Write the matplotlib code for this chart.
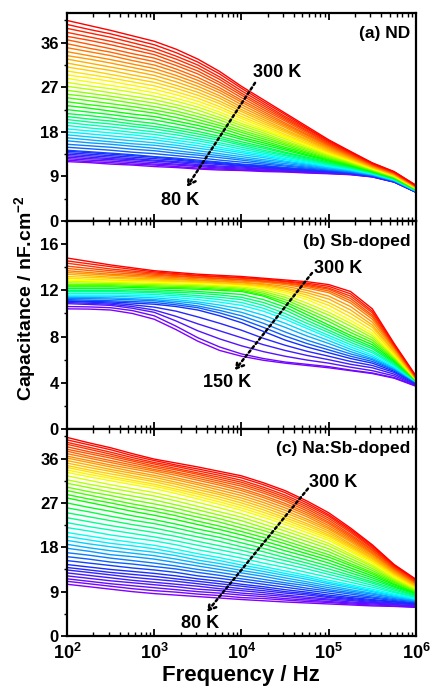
import matplotlib
matplotlib.use("Agg")
import matplotlib.pyplot as plt
from matplotlib.colors import LinearSegmentedColormap
from matplotlib.ticker import MultipleLocator, LogLocator, NullFormatter
import numpy as np

plt.rcParams['font.family'] = ['Liberation Sans', 'DejaVu Sans']
plt.rcParams['font.weight'] = 'bold'
plt.rcParams['mathtext.fontset'] = 'custom'
plt.rcParams['mathtext.rm'] = 'Liberation Sans:bold'
plt.rcParams['mathtext.bf'] = 'Liberation Sans:bold'
plt.rcParams['mathtext.it'] = 'Liberation Sans:bold'


# ---- data (capacitance in nF/cm2) ----

# frequencies (Hz) at which the curves were read, quarter decades
freq_hz = [1e2, 1.78e2, 3.16e2, 5.62e2, 1e3, 1.78e3, 3.16e3, 5.62e3, 1e4,
           1.78e4, 3.16e4, 5.62e4, 1e5, 1.78e5, 3.16e5, 5.62e5, 1e6]

# (a) ND, 80 K ... 300 K : one list per frequency, values from 80 K up to 300 K
nd_temps = list(range(80, 301, 5))
nd_by_freq = [
    [12.0, 12.3, 12.6, 12.9, 13.2, 13.5, 13.8, 14.1, 14.3, 14.9, 15.5, 16.2, 16.8, 17.4, 18.0, 18.6, 19.3, 19.9, 20.5, 21.1, 21.7, 22.5, 23.3, 24.1, 24.9, 25.6, 26.4, 27.2, 28.0, 28.8, 29.5, 30.3, 31.1, 31.9, 32.7, 33.4, 34.2, 35.0, 35.8, 36.6, 37.3, 38.1, 38.9, 39.7, 40.5],
    [11.8, 12.0, 12.3, 12.6, 12.9, 13.2, 13.5, 13.8, 14.0, 14.6, 15.2, 15.8, 16.4, 17.0, 17.6, 18.2, 18.8, 19.4, 20.0, 20.6, 21.3, 22.0, 22.8, 23.5, 24.3, 25.1, 25.8, 26.6, 27.3, 28.1, 28.9, 29.6, 30.4, 31.1, 31.9, 32.7, 33.4, 34.2, 34.9, 35.7, 36.5, 37.2, 38.0, 38.7, 39.5],
    [11.5, 11.8, 12.1, 12.4, 12.6, 12.9, 13.2, 13.5, 13.7, 14.3, 14.9, 15.5, 16.0, 16.6, 17.2, 17.8, 18.4, 19.0, 19.6, 20.2, 20.8, 21.5, 22.2, 23.0, 23.7, 24.5, 25.2, 25.9, 26.7, 27.4, 28.2, 28.9, 29.6, 30.4, 31.1, 31.9, 32.6, 33.4, 34.1, 34.8, 35.6, 36.3, 37.1, 37.8, 38.5],
    [11.3, 11.5, 11.8, 12.1, 12.4, 12.6, 12.9, 13.2, 13.4, 13.9, 14.5, 15.1, 15.6, 16.2, 16.8, 17.4, 17.9, 18.5, 19.1, 19.6, 20.2, 20.9, 21.6, 22.4, 23.1, 23.8, 24.5, 25.2, 26.0, 26.7, 27.4, 28.1, 28.8, 29.5, 30.3, 31.0, 31.7, 32.4, 33.1, 33.8, 34.6, 35.3, 36.0, 36.7, 37.4],
    [11.0, 11.3, 11.5, 11.8, 12.1, 12.3, 12.6, 12.9, 13.0, 13.6, 14.2, 14.7, 15.3, 15.8, 16.4, 16.9, 17.5, 18.0, 18.6, 19.1, 19.7, 20.4, 21.1, 21.8, 22.4, 23.1, 23.8, 24.5, 25.2, 25.9, 26.6, 27.3, 28.0, 28.7, 29.4, 30.1, 30.8, 31.5, 32.2, 32.9, 33.6, 34.2, 34.9, 35.6, 36.3],
    [10.8, 11.0, 11.3, 11.5, 11.8, 12.0, 12.3, 12.5, 12.7, 13.2, 13.7, 14.2, 14.8, 15.3, 15.8, 16.3, 16.8, 17.4, 17.9, 18.4, 18.9, 19.6, 20.2, 20.9, 21.6, 22.2, 22.9, 23.5, 24.2, 24.8, 25.5, 26.1, 26.8, 27.4, 28.1, 28.8, 29.4, 30.1, 30.7, 31.4, 32.0, 32.7, 33.3, 34.0, 34.7],
    [10.5, 10.7, 11.0, 11.2, 11.4, 11.7, 11.9, 12.1, 12.3, 12.8, 13.3, 13.7, 14.2, 14.7, 15.2, 15.7, 16.2, 16.6, 17.1, 17.6, 18.1, 18.7, 19.3, 19.9, 20.5, 21.1, 21.7, 22.4, 23.0, 23.6, 24.2, 24.8, 25.4, 26.0, 26.6, 27.2, 27.8, 28.4, 29.0, 29.7, 30.3, 30.9, 31.5, 32.1, 32.7],
    [10.3, 10.5, 10.7, 10.9, 11.1, 11.4, 11.6, 11.8, 11.9, 12.3, 12.8, 13.2, 13.6, 14.1, 14.5, 14.9, 15.4, 15.8, 16.3, 16.7, 17.1, 17.7, 18.2, 18.8, 19.3, 19.8, 20.4, 20.9, 21.5, 22.0, 22.6, 23.1, 23.7, 24.2, 24.8, 25.3, 25.9, 26.4, 26.9, 27.5, 28.0, 28.6, 29.1, 29.7, 30.2],
    [10.2, 10.3, 10.5, 10.7, 10.9, 11.1, 11.2, 11.4, 11.5, 11.9, 12.3, 12.6, 13.0, 13.4, 13.8, 14.1, 14.5, 14.9, 15.3, 15.6, 16.0, 16.5, 16.9, 17.4, 17.9, 18.3, 18.8, 19.3, 19.7, 20.2, 20.7, 21.1, 21.6, 22.1, 22.5, 23.0, 23.5, 24.0, 24.4, 24.9, 25.4, 25.8, 26.3, 26.8, 27.2],
    [10.0, 10.2, 10.3, 10.5, 10.6, 10.8, 10.9, 11.1, 11.2, 11.5, 11.8, 12.1, 12.4, 12.8, 13.1, 13.4, 13.7, 14.0, 14.3, 14.7, 15.0, 15.4, 15.8, 16.2, 16.6, 17.0, 17.4, 17.8, 18.2, 18.5, 18.9, 19.3, 19.7, 20.1, 20.5, 20.9, 21.3, 21.7, 22.1, 22.5, 22.9, 23.3, 23.7, 24.1, 24.5],
    [9.9, 10.0, 10.1, 10.2, 10.4, 10.5, 10.6, 10.7, 10.8, 11.1, 11.3, 11.6, 11.9, 12.1, 12.4, 12.6, 12.9, 13.2, 13.4, 13.7, 13.9, 14.3, 14.6, 14.9, 15.3, 15.6, 15.9, 16.2, 16.6, 16.9, 17.2, 17.5, 17.9, 18.2, 18.5, 18.9, 19.2, 19.5, 19.8, 20.2, 20.5, 20.8, 21.1, 21.5, 21.8],
    [9.7, 9.8, 9.9, 10.0, 10.1, 10.2, 10.3, 10.4, 10.5, 10.7, 10.9, 11.1, 11.3, 11.5, 11.7, 11.9, 12.1, 12.3, 12.5, 12.7, 12.9, 13.2, 13.4, 13.7, 13.9, 14.2, 14.5, 14.7, 15.0, 15.2, 15.5, 15.7, 16.0, 16.3, 16.5, 16.8, 17.0, 17.3, 17.5, 17.8, 18.1, 18.3, 18.6, 18.8, 19.1],
    [9.55, 9.62, 9.69, 9.77, 9.84, 9.91, 9.98, 10.05, 10.1, 10.3, 10.4, 10.5, 10.7, 10.8, 11.0, 11.1, 11.3, 11.4, 11.6, 11.7, 11.9, 12.1, 12.3, 12.4, 12.6, 12.8, 13.0, 13.2, 13.4, 13.6, 13.8, 13.9, 14.1, 14.3, 14.5, 14.7, 14.9, 15.1, 15.3, 15.4, 15.6, 15.8, 16.0, 16.2, 16.4],
    [9.35, 9.4, 9.45, 9.5, 9.55, 9.6, 9.65, 9.7, 9.73, 9.83, 9.93, 10.04, 10.14, 10.24, 10.34, 10.45, 10.55, 10.65, 10.75, 10.86, 10.96, 11.09, 11.22, 11.34, 11.47, 11.6, 11.73, 11.86, 11.99, 12.12, 12.24, 12.37, 12.5, 12.63, 12.76, 12.89, 13.02, 13.15, 13.27, 13.4, 13.53, 13.66, 13.79, 13.92, 14.05],
    [8.9, 8.93, 8.96, 8.99, 9.02, 9.05, 9.08, 9.11, 9.13, 9.19, 9.25, 9.32, 9.38, 9.44, 9.5, 9.56, 9.63, 9.69, 9.75, 9.81, 9.87, 9.95, 10.03, 10.11, 10.19, 10.26, 10.34, 10.42, 10.5, 10.58, 10.65, 10.73, 10.81, 10.89, 10.97, 11.04, 11.12, 11.2, 11.28, 11.36, 11.43, 11.51, 11.59, 11.67, 11.75],
    [7.85, 7.87, 7.9, 7.92, 7.94, 7.96, 7.99, 8.01, 8.02, 8.07, 8.12, 8.16, 8.21, 8.26, 8.3, 8.35, 8.39, 8.44, 8.49, 8.53, 8.58, 8.64, 8.7, 8.76, 8.81, 8.87, 8.93, 8.99, 9.05, 9.11, 9.17, 9.22, 9.28, 9.34, 9.4, 9.46, 9.52, 9.58, 9.63, 9.69, 9.75, 9.81, 9.87, 9.93, 9.98],
    [5.8, 5.82, 5.83, 5.85, 5.86, 5.88, 5.89, 5.91, 5.92, 5.95, 5.98, 6.01, 6.04, 6.07, 6.1, 6.13, 6.16, 6.19, 6.23, 6.26, 6.29, 6.33, 6.37, 6.4, 6.44, 6.48, 6.52, 6.56, 6.6, 6.64, 6.68, 6.72, 6.76, 6.79, 6.83, 6.87, 6.91, 6.95, 6.99, 7.03, 7.07, 7.11, 7.15, 7.18, 7.22],
]

# (b) Sb-doped, 150 K ... 300 K : one list per temperature, values over freq_hz
sb_temps = list(range(150, 301, 5))
sb_by_temp = [
    [10.4, 10.38, 10.3, 10.0, 9.5, 8.6, 7.6, 6.8, 6.3, 5.95, 5.7, 5.5, 5.3, 5.05, 4.8, 4.4, 3.7],
    [10.6, 10.57, 10.5, 10.25, 9.8, 8.9, 7.9, 7.1, 6.5, 6.1, 5.8, 5.6, 5.4, 5.1, 4.85, 4.45, 3.75],
    [10.85, 10.78, 10.7, 10.45, 10.1, 9.35, 8.5, 7.8, 7.2, 6.7, 6.3, 5.97, 5.7, 5.35, 5.05, 4.6, 3.8],
    [10.95, 10.88, 10.8, 10.6, 10.3, 9.75, 9.1, 8.5, 7.9, 7.3, 6.8, 6.37, 6.0, 5.6, 5.3, 4.75, 3.85],
    [11.05, 10.98, 10.9, 10.75, 10.55, 10.2, 9.7, 9.15, 8.55, 7.85, 7.25, 6.73, 6.3, 5.85, 5.5, 4.9, 3.9],
    [11.1, 11.05, 11.0, 10.9, 10.8, 10.6, 10.3, 9.8, 9.2, 8.45, 7.7, 7.1, 6.6, 6.1, 5.7, 5.0, 4.0],
    [11.2, 11.15, 11.1, 11.03, 10.95, 10.75, 10.5, 10.05, 9.5, 8.8, 8.05, 7.4, 6.85, 6.3, 5.85, 5.1, 4.0],
    [11.3, 11.28, 11.25, 11.18, 11.1, 10.9, 10.65, 10.27, 9.8, 9.15, 8.4, 7.7, 7.1, 6.5, 6.0, 5.15, 4.05],
    [11.4, 11.38, 11.35, 11.28, 11.2, 11.05, 10.85, 10.5, 10.1, 9.5, 8.8, 8.05, 7.4, 6.7, 6.1, 5.25, 4.05],
    [11.5, 11.5, 11.5, 11.43, 11.35, 11.2, 11.0, 10.73, 10.4, 9.85, 9.15, 8.37, 7.65, 6.9, 6.25, 5.3, 4.1],
    [11.6, 11.6, 11.6, 11.55, 11.5, 11.37, 11.2, 10.98, 10.7, 10.2, 9.5, 8.7, 7.9, 7.1, 6.4, 5.4, 4.1],
    [11.75, 11.75, 11.75, 11.7, 11.65, 11.53, 11.4, 11.2, 10.95, 10.45, 9.75, 8.9, 8.1, 7.3, 6.6, 5.5, 4.1],
    [11.9, 11.9, 11.9, 11.85, 11.8, 11.68, 11.55, 11.4, 11.2, 10.7, 10.0, 9.15, 8.35, 7.5, 6.75, 5.6, 4.15],
    [12.0, 12.0, 12.0, 11.95, 11.9, 11.83, 11.75, 11.6, 11.4, 10.95, 10.3, 9.4, 8.55, 7.7, 6.95, 5.7, 4.15],
    [12.15, 12.15, 12.15, 12.1, 12.05, 11.98, 11.9, 11.78, 11.65, 11.2, 10.55, 9.65, 8.8, 7.9, 7.1, 5.8, 4.2],
    [12.3, 12.3, 12.3, 12.25, 12.2, 12.15, 12.1, 12.0, 11.9, 11.5, 10.8, 9.9, 9.0, 8.1, 7.3, 5.9, 4.2],
    [12.4, 12.4, 12.4, 12.35, 12.3, 12.25, 12.2, 12.1, 12.0, 11.6, 11.0, 10.15, 9.3, 8.35, 7.5, 6.0, 4.2],
    [12.5, 12.5, 12.5, 12.45, 12.4, 12.35, 12.3, 12.2, 12.1, 11.75, 11.2, 10.4, 9.55, 8.6, 7.7, 6.1, 4.25],
    [12.65, 12.62, 12.6, 12.55, 12.5, 12.45, 12.4, 12.3, 12.2, 11.9, 11.4, 10.65, 9.85, 8.9, 7.9, 6.2, 4.25],
    [12.8, 12.75, 12.7, 12.65, 12.6, 12.55, 12.5, 12.4, 12.3, 12.05, 11.6, 10.9, 10.1, 9.15, 8.1, 6.3, 4.3],
    [12.9, 12.85, 12.8, 12.75, 12.7, 12.65, 12.6, 12.5, 12.4, 12.2, 11.8, 11.2, 10.4, 9.4, 8.3, 6.4, 4.3],
    [13.05, 12.97, 12.9, 12.85, 12.8, 12.75, 12.7, 12.6, 12.5, 12.3, 11.95, 11.4, 10.7, 9.7, 8.55, 6.5, 4.3],
    [13.2, 13.12, 13.05, 12.97, 12.9, 12.82, 12.75, 12.65, 12.55, 12.4, 12.1, 11.6, 10.95, 10.0, 8.8, 6.65, 4.35],
    [13.4, 13.27, 13.15, 13.07, 13.0, 12.92, 12.85, 12.75, 12.65, 12.5, 12.2, 11.8, 11.25, 10.3, 9.0, 6.75, 4.35],
    [13.55, 13.42, 13.3, 13.2, 13.1, 13.0, 12.9, 12.8, 12.7, 12.57, 12.35, 12.0, 11.5, 10.6, 9.25, 6.9, 4.4],
    [13.7, 13.55, 13.4, 13.3, 13.2, 13.1, 13.0, 12.9, 12.8, 12.7, 12.5, 12.2, 11.8, 10.9, 9.5, 7.0, 4.4],
    [13.9, 13.72, 13.55, 13.42, 13.3, 13.2, 13.1, 13.0, 12.9, 12.77, 12.6, 12.33, 11.95, 11.1, 9.7, 7.1, 4.45],
    [14.1, 13.9, 13.7, 13.55, 13.4, 13.27, 13.15, 13.05, 12.95, 12.82, 12.65, 12.42, 12.1, 11.3, 9.85, 7.15, 4.5],
    [14.35, 14.1, 13.85, 13.67, 13.5, 13.37, 13.25, 13.15, 13.05, 12.92, 12.75, 12.52, 12.2, 11.5, 10.05, 7.25, 4.5],
    [14.55, 14.3, 14.05, 13.82, 13.6, 13.45, 13.3, 13.2, 13.1, 12.97, 12.8, 12.62, 12.35, 11.7, 10.2, 7.3, 4.55],
    [14.8, 14.5, 14.2, 13.95, 13.7, 13.55, 13.4, 13.3, 13.2, 13.05, 12.9, 12.75, 12.5, 11.9, 10.4, 7.4, 4.6],
]

# (c) Na:Sb-doped, 80 K ... 300 K : one list per frequency, values from 80 K up to 300 K
nasb_temps = list(range(80, 301, 5))
nasb_by_freq = [
    [10.5, 11.1, 11.6, 12.2, 12.8, 13.4, 13.9, 14.5, 15.3, 16.1, 16.9, 17.8, 18.6, 19.4, 20.2, 21.0, 22.0, 23.0, 24.0, 25.0, 26.0, 27.0, 28.0, 28.7, 29.5, 30.2, 31.0, 31.7, 32.5, 33.2, 33.7, 34.2, 34.6, 35.1, 35.6, 36.1, 36.5, 37.0, 37.5, 37.9, 38.4, 38.9, 39.3, 39.8, 40.3],
    [10.0, 10.6, 11.1, 11.7, 12.3, 12.9, 13.4, 14.0, 14.8, 15.6, 16.4, 17.2, 17.9, 18.7, 19.5, 20.3, 21.3, 22.2, 23.2, 24.2, 25.2, 26.1, 27.1, 27.8, 28.6, 29.3, 30.1, 30.8, 31.6, 32.3, 32.8, 33.3, 33.7, 34.2, 34.7, 35.2, 35.6, 36.1, 36.5, 37.0, 37.4, 37.9, 38.3, 38.8, 39.2],
    [9.5, 10.1, 10.6, 11.2, 11.8, 12.4, 12.9, 13.5, 14.3, 15.0, 15.8, 16.5, 17.3, 18.1, 18.8, 19.6, 20.5, 21.5, 22.4, 23.4, 24.3, 25.3, 26.2, 27.0, 27.7, 28.5, 29.2, 30.0, 30.7, 31.5, 32.0, 32.4, 32.9, 33.4, 33.8, 34.3, 34.7, 35.2, 35.6, 36.1, 36.5, 36.9, 37.3, 37.8, 38.2],
    [9.0, 9.6, 10.2, 10.8, 11.3, 11.9, 12.5, 13.1, 13.8, 14.6, 15.3, 16.1, 16.8, 17.5, 18.3, 19.0, 19.9, 20.8, 21.7, 22.6, 23.5, 24.4, 25.3, 26.1, 26.8, 27.6, 28.4, 29.2, 29.9, 30.7, 31.2, 31.6, 32.1, 32.5, 33.0, 33.4, 33.9, 34.3, 34.7, 35.1, 35.5, 35.8, 36.2, 36.6, 37.0],
    [8.6, 9.2, 9.8, 10.4, 10.9, 11.5, 12.1, 12.7, 13.4, 14.1, 14.8, 15.6, 16.3, 17.0, 17.7, 18.4, 19.3, 20.1, 21.0, 21.9, 22.8, 23.6, 24.5, 25.3, 26.0, 26.8, 27.6, 28.4, 29.1, 29.9, 30.4, 30.8, 31.3, 31.7, 32.2, 32.6, 33.1, 33.5, 33.8, 34.2, 34.5, 34.9, 35.2, 35.6, 35.9],
    [8.3, 8.9, 9.4, 10.0, 10.5, 11.1, 11.6, 12.2, 12.9, 13.6, 14.2, 14.9, 15.6, 16.3, 16.9, 17.6, 18.5, 19.3, 20.2, 21.0, 21.9, 22.7, 23.6, 24.4, 25.1, 25.9, 26.6, 27.4, 28.1, 28.9, 29.4, 29.8, 30.3, 30.8, 31.2, 31.7, 32.1, 32.6, 33.0, 33.3, 33.7, 34.0, 34.4, 34.7, 35.1],
    [8.0, 8.5, 9.0, 9.5, 10.1, 10.6, 11.1, 11.6, 12.2, 12.9, 13.5, 14.2, 14.8, 15.4, 16.1, 16.7, 17.5, 18.4, 19.2, 20.1, 20.9, 21.7, 22.6, 23.3, 24.1, 24.8, 25.6, 26.3, 27.1, 27.8, 28.3, 28.8, 29.2, 29.7, 30.2, 30.7, 31.1, 31.6, 32.0, 32.4, 32.8, 33.1, 33.5, 33.9, 34.3],
    [7.7, 8.2, 8.7, 9.2, 9.6, 10.1, 10.6, 11.1, 11.7, 12.3, 12.9, 13.5, 14.1, 14.7, 15.3, 15.9, 16.7, 17.5, 18.3, 19.2, 20.0, 20.8, 21.6, 22.3, 23.1, 23.8, 24.5, 25.2, 26.0, 26.7, 27.2, 27.7, 28.2, 28.7, 29.1, 29.6, 30.1, 30.6, 31.0, 31.4, 31.8, 32.2, 32.6, 33.0, 33.4],
    [7.4, 7.8, 8.3, 8.7, 9.2, 9.6, 10.1, 10.5, 11.1, 11.6, 12.2, 12.8, 13.3, 13.9, 14.4, 15.0, 15.8, 16.6, 17.4, 18.1, 18.9, 19.7, 20.5, 21.2, 21.9, 22.6, 23.4, 24.1, 24.8, 25.5, 26.0, 26.5, 27.0, 27.5, 28.0, 28.5, 29.0, 29.5, 29.9, 30.4, 30.8, 31.2, 31.6, 32.1, 32.5],
    [7.15, 7.6, 8.0, 8.4, 8.8, 9.2, 9.6, 10.0, 10.5, 11.0, 11.5, 12.1, 12.6, 13.1, 13.6, 14.1, 14.8, 15.6, 16.3, 17.1, 17.8, 18.6, 19.3, 20.0, 20.7, 21.4, 22.0, 22.7, 23.4, 24.1, 24.6, 25.1, 25.6, 26.1, 26.6, 27.1, 27.6, 28.1, 28.5, 29.0, 29.4, 29.8, 30.2, 30.7, 31.1],
    [6.9, 7.3, 7.6, 8.0, 8.3, 8.7, 9.0, 9.4, 9.9, 10.4, 10.8, 11.3, 11.8, 12.3, 12.7, 13.2, 13.9, 14.6, 15.3, 15.9, 16.6, 17.3, 18.0, 18.7, 19.3, 20.0, 20.6, 21.3, 21.9, 22.6, 23.1, 23.6, 24.0, 24.5, 25.0, 25.5, 26.0, 26.5, 26.9, 27.4, 27.8, 28.2, 28.6, 29.1, 29.5],
    [6.7, 7.0, 7.3, 7.6, 7.9, 8.3, 8.6, 8.9, 9.3, 9.7, 10.2, 10.6, 11.0, 11.5, 11.9, 12.3, 12.9, 13.6, 14.2, 14.8, 15.4, 16.1, 16.7, 17.3, 17.9, 18.5, 19.2, 19.8, 20.4, 21.0, 21.5, 21.9, 22.4, 22.8, 23.3, 23.7, 24.2, 24.6, 25.0, 25.4, 25.8, 26.2, 26.6, 27.0, 27.4],
    [6.5, 6.8, 7.0, 7.3, 7.5, 7.8, 8.0, 8.3, 8.7, 9.1, 9.4, 9.8, 10.2, 10.6, 10.9, 11.3, 11.9, 12.5, 13.0, 13.6, 14.2, 14.8, 15.4, 16.0, 16.5, 17.1, 17.7, 18.3, 18.8, 19.4, 19.8, 20.2, 20.5, 20.9, 21.3, 21.7, 22.0, 22.4, 22.8, 23.1, 23.5, 23.9, 24.3, 24.6, 25.0],
    [6.3, 6.5, 6.7, 6.9, 7.2, 7.4, 7.6, 7.8, 8.1, 8.5, 8.8, 9.1, 9.4, 9.8, 10.1, 10.4, 10.9, 11.4, 11.9, 12.3, 12.8, 13.3, 13.8, 14.3, 14.7, 15.2, 15.7, 16.2, 16.6, 17.1, 17.4, 17.8, 18.1, 18.4, 18.7, 19.1, 19.4, 19.7, 20.0, 20.3, 20.6, 21.0, 21.3, 21.6, 21.9],
    [6.1, 6.3, 6.5, 6.7, 6.8, 7.0, 7.2, 7.4, 7.7, 7.9, 8.2, 8.5, 8.7, 9.0, 9.2, 9.5, 9.9, 10.3, 10.7, 11.0, 11.4, 11.8, 12.2, 12.6, 12.9, 13.3, 13.7, 14.1, 14.4, 14.8, 15.1, 15.3, 15.6, 15.8, 16.1, 16.3, 16.6, 16.8, 17.0, 17.3, 17.5, 17.8, 18.0, 18.3, 18.5],
    [6.0, 6.1, 6.3, 6.4, 6.6, 6.7, 6.9, 7.0, 7.2, 7.4, 7.6, 7.8, 7.9, 8.1, 8.3, 8.5, 8.8, 9.0, 9.3, 9.6, 9.9, 10.1, 10.4, 10.6, 10.9, 11.1, 11.3, 11.5, 11.8, 12.0, 12.2, 12.4, 12.6, 12.8, 12.9, 13.1, 13.3, 13.5, 13.6, 13.8, 13.9, 14.1, 14.2, 14.4, 14.5],
    [5.8, 5.9, 6.0, 6.1, 6.3, 6.4, 6.5, 6.6, 6.7, 6.9, 7.0, 7.1, 7.2, 7.4, 7.5, 7.6, 7.8, 7.9, 8.1, 8.2, 8.4, 8.6, 8.7, 8.8, 9.0, 9.1, 9.3, 9.4, 9.6, 9.7, 9.8, 9.9, 10.1, 10.2, 10.3, 10.5, 10.6, 10.7, 10.8, 10.9, 11.0, 11.2, 11.3, 11.4, 11.5],
]

panel_titles = ["(a) ND", "(b) Sb-doped", "(c) Na:Sb-doped"]
low_labels = ["80 K", "150 K", "80 K"]

# arrow start / end and label positions (freq, cap)
arrow_start = [(1.43e4, 27.9), (6.43e4, 13.5), (5.78e4, 29.9)]
arrow_end = [(2.37e3, 6.9), (8.4e3, 5.1), (4.03e3, 4.9)]
hi_label_pos = [(2.55e4, 29.9), (1.28e5, 13.9), (1.12e5, 31.1)]
lo_label_pos = [(1.97e3, 4.2), (6.8e3, 4.0), (3.34e3, 2.6)]

rainbow = LinearSegmentedColormap.from_list(
    "origin_rainbow",
    ["#8000FF", "#1030FF", "#00FFFF", "#00FF00", "#FFFF00", "#FF8000", "#FF0000"])

# every panel as (curves x frequencies)
nd_cap = np.array(nd_by_freq).T
sb_cap = np.array(sb_by_temp)
nasb_cap = np.array(nasb_by_freq).T

# ---- figure ----
fig = plt.figure(figsize=(4.3, 6.86), dpi=100)
left, width = 0.1558, 0.8116
ax_a = fig.add_axes([left, 0.6778, width, 0.3032])
ax_b = fig.add_axes([left, 0.3746, width, 0.3032])
ax_c = fig.add_axes([left, 0.0729, width, 0.3017])

panels = [
    (ax_a, nd_temps, nd_cap, 42, 9),
    (ax_b, sb_temps, sb_cap, 18, 4),
    (ax_c, nasb_temps, nasb_cap, 42, 9),
]

for k, (ax, temps, cap, ytop, ystep) in enumerate(panels):
    t0, t1 = temps[0], temps[-1]
    for T, row in zip(temps, cap):
        ax.plot(freq_hz, row, color=rainbow((T - t0) / (t1 - t0)), lw=1.0)

    ax.set_xscale('log')
    ax.set_xlim(1e2, 1e6)
    ax.set_ylim(0, ytop)

    ax.xaxis.set_major_locator(LogLocator(base=10, numticks=10))
    ax.xaxis.set_minor_locator(LogLocator(base=10, subs=np.arange(2, 10), numticks=10))
    ax.xaxis.set_minor_formatter(NullFormatter())
    ax.yaxis.set_major_locator(MultipleLocator(ystep))
    ax.yaxis.set_minor_locator(MultipleLocator(ystep / 2))

    ax.tick_params(axis='x', which='both', direction='in', top=True, bottom=True,
                   labelsize=13, pad=5)
    ax.tick_params(axis='x', which='major', length=5, width=1.3)
    ax.tick_params(axis='x', which='minor', length=3, width=1.0)
    ax.tick_params(axis='y', which='both', direction='out', left=True, right=False,
                   labelsize=12, pad=2)
    ax.tick_params(axis='y', which='major', length=4, width=1.3)
    ax.tick_params(axis='y', which='minor', length=2.5, width=1.0)
    if ax is not ax_c:
        ax.tick_params(axis='x', labelbottom=False)

    for sp in ax.spines.values():
        sp.set_linewidth(1.6)

    ax.text(0.985, 0.94, panel_titles[k], transform=ax.transAxes,
            ha='right', va='top', fontsize=12.5, fontweight='bold')

    ax.annotate('', xy=arrow_end[k], xytext=arrow_start[k],
                arrowprops=dict(arrowstyle='->,head_length=0.5,head_width=0.3',
                                color='black', lw=1.8, linestyle=(0, (1, 1.2)),
                                shrinkA=0, shrinkB=0))
    ax.text(*hi_label_pos[k], '300 K', ha='center', va='center',
            fontsize=13, fontweight='bold')
    ax.text(*lo_label_pos[k], low_labels[k], ha='center', va='center',
            fontsize=13, fontweight='bold')

fig.text(0.058, 0.565, 'Capacitance / nF.cm$^{-2}$', rotation=90,
         ha='center', va='center', fontsize=14, fontweight='bold')
fig.text(0.561, 0.016, 'Frequency / Hz', ha='center', va='center',
         fontsize=16, fontweight='bold')

fig.savefig('out.png', dpi=100)
